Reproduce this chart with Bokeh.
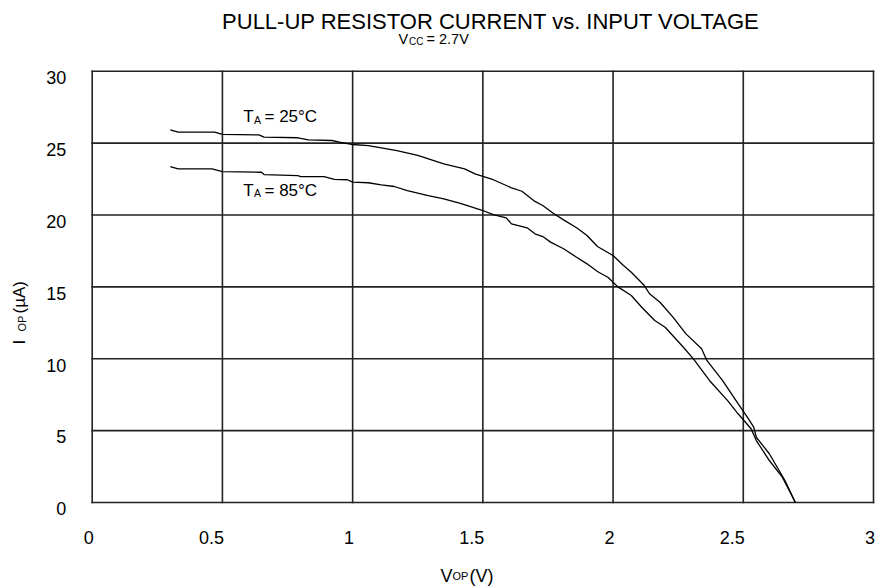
import math
from bokeh.plotting import figure
from bokeh.models import Range1d, Label, LabelSet, ColumnDataSource
from bokeh.core.properties import value
from bokeh.embed import file_html
from bokeh.resources import INLINE

# ---- data ----
v_25 = [0.30, 0.33, 0.47, 0.50, 0.64, 0.66, 0.79, 0.83, 0.92, 0.95,
        1.00, 1.06, 1.11, 1.17, 1.25, 1.35, 1.43, 1.47, 1.50, 1.54,
        1.61, 1.65, 1.70, 1.73, 1.77, 1.81, 1.86, 1.90, 1.94, 2.00,
        2.04, 2.07, 2.12, 2.14, 2.18, 2.23, 2.28, 2.34, 2.36, 2.42,
        2.48, 2.52, 2.54, 2.55, 2.60, 2.66, 2.70]
i_25 = [25.92, 25.76, 25.76, 25.60, 25.57, 25.41, 25.37, 25.23, 25.18, 25.06,
        24.90, 24.83, 24.67, 24.48, 24.14, 23.56, 23.21, 22.86, 22.68, 22.45,
        21.89, 21.65, 20.94, 20.66, 20.12, 19.66, 19.11, 18.57, 17.81, 17.18,
        16.48, 16.02, 15.09, 14.52, 13.93, 12.89, 11.73, 10.69, 9.88, 8.49,
        6.87, 5.82, 5.24, 4.54, 3.39, 1.53, 0.0]

v_85 = [0.30, 0.33, 0.46, 0.50, 0.65, 0.66, 0.79, 0.80, 0.89, 0.93,
        0.98, 1.00, 1.06, 1.11, 1.16, 1.21, 1.29, 1.35, 1.41, 1.45,
        1.50, 1.54, 1.59, 1.61, 1.67, 1.70, 1.73, 1.76, 1.81, 1.86,
        1.90, 1.94, 1.98, 2.00, 2.02, 2.07, 2.11, 2.16, 2.20, 2.27,
        2.31, 2.37, 2.44, 2.48, 2.53, 2.55, 2.60, 2.65, 2.67, 2.70]
i_85 = [23.37, 23.21, 23.21, 23.02, 22.97, 22.81, 22.74, 22.67, 22.67, 22.47,
        22.45, 22.28, 22.24, 22.10, 21.98, 21.70, 21.35, 21.12, 20.82, 20.59,
        20.31, 20.03, 19.80, 19.38, 19.11, 18.69, 18.50, 18.11, 17.65, 17.06,
        16.60, 16.07, 15.67, 15.32, 14.98, 14.40, 13.58, 12.66, 12.19, 10.80,
        9.95, 8.49, 7.09, 6.17, 5.13, 4.31, 2.92, 1.76, 1.06, 0.0]

x_ticks = [0, 0.5, 1, 1.5, 2, 2.5, 3]
x_tick_labels = ["0", "0.5", "1", "1.5", "2", "2.5", "3"]
y_ticks = [0, 5, 10, 15, 20, 25, 30]
y_tick_labels = ["0", "5", "10", "15", "20", "25", "30"]
x_min, x_max = 0, 3
y_min, y_max = 0, 30

FONT = "Liberation Sans"
W, H = 881, 587
# plot box position on the page (pixels)
FL, FR, FT, FB = 91.7, 873.0, 70.7, 502.0
sx = (FR - FL) / (x_max - x_min)
sy = (FB - FT) / (y_max - y_min)
BASE_SHIFT = 7.0  # rendered alphabetic baseline sits this much lower

def dx(px):
    return x_min + (px - FL) / sx
def dy(py):
    return y_min + (FB - py) / sy

p = figure(width=W, height=H,
           x_range=Range1d(dx(0), dx(W)), y_range=Range1d(dy(H), dy(0)),
           output_backend="svg", toolbar_location=None,
           x_axis_location=None, y_axis_location=None,
           min_border=0)
p.background_fill_color = "white"
p.border_fill_color = "white"
p.outline_line_color = None
p.grid.visible = False

# grid lines and plot box, drawn from the tick arrays
grid_col = "#222222"
p.segment(x0=x_ticks, y0=[y_min] * len(x_ticks), x1=x_ticks, y1=[y_max] * len(x_ticks),
          line_color=grid_col, line_width=1.6, line_cap="square")
p.segment(x0=[x_min] * len(y_ticks), y0=y_ticks, x1=[x_max] * len(y_ticks), y1=y_ticks,
          line_color=grid_col, line_width=1.6, line_cap="square")

p.line(v_25, i_25, line_color="black", line_width=1.3)
p.line(v_85, i_85, line_color="black", line_width=1.3)

# tick labels
xs = ColumnDataSource(dict(x=x_ticks, y=[y_min] * len(x_ticks), t=x_tick_labels))
p.add_layout(LabelSet(x="x", y="y", text="t", source=xs, x_offset=1.5, y_offset=-34.5,
                      text_align="right", text_baseline="middle",
                      text_font=value(FONT), text_font_size=value("18px"),
                      text_color="black"))
ys = ColumnDataSource(dict(x=[x_min] * len(y_ticks), y=y_ticks, t=y_tick_labels))
p.add_layout(LabelSet(x="x", y="y", text="t", source=ys, x_offset=-26, y_offset=-6.3,
                      text_align="right", text_baseline="middle",
                      text_font=value(FONT), text_font_size=value("18px"),
                      text_color="black"))

def lab(px, py, text, size, align="left", angle=0.0):
    if angle:
        px = px - BASE_SHIFT
    else:
        py = py - BASE_SHIFT
    p.add_layout(Label(x=dx(px), y=dy(py), text=text, text_font=FONT,
                       text_font_size=f"{size}px", text_align=align,
                       text_baseline="alphabetic", angle=angle,
                       text_color="black"))

# title and subtitle
lab(490.5, 27.7, "PULL-UP RESISTOR CURRENT vs. INPUT VOLTAGE", 22, align="center")
lab(398, 45.5, "V", 14.5)
lab(408.5, 47.5, "CC", 10)
lab(426, 45.5, "= 2.7V", 14.5)

# curve labels
lab(242.7, 123.3, "T", 17)
lab(253.5, 126, "A", 10.5)
lab(264, 123.3, "= 25°C", 17)
lab(242.7, 196.7, "T", 17)
lab(253.5, 199.4, "A", 10.5)
lab(264, 196.7, "= 85°C", 17)

# x axis label
lab(440, 582, "V", 18)
lab(452, 582, "OP", 11)
lab(469, 582, "(V)", 18)

# y axis label (rotated)
rot = math.pi / 2
lab(25.5, 344, "I", 17, angle=rot)
lab(28.5, 331, "OP", 11, angle=rot)
lab(25.5, 313, "(µA)", 17, angle=rot)

open("out.html", "w").write(file_html(p, INLINE))
